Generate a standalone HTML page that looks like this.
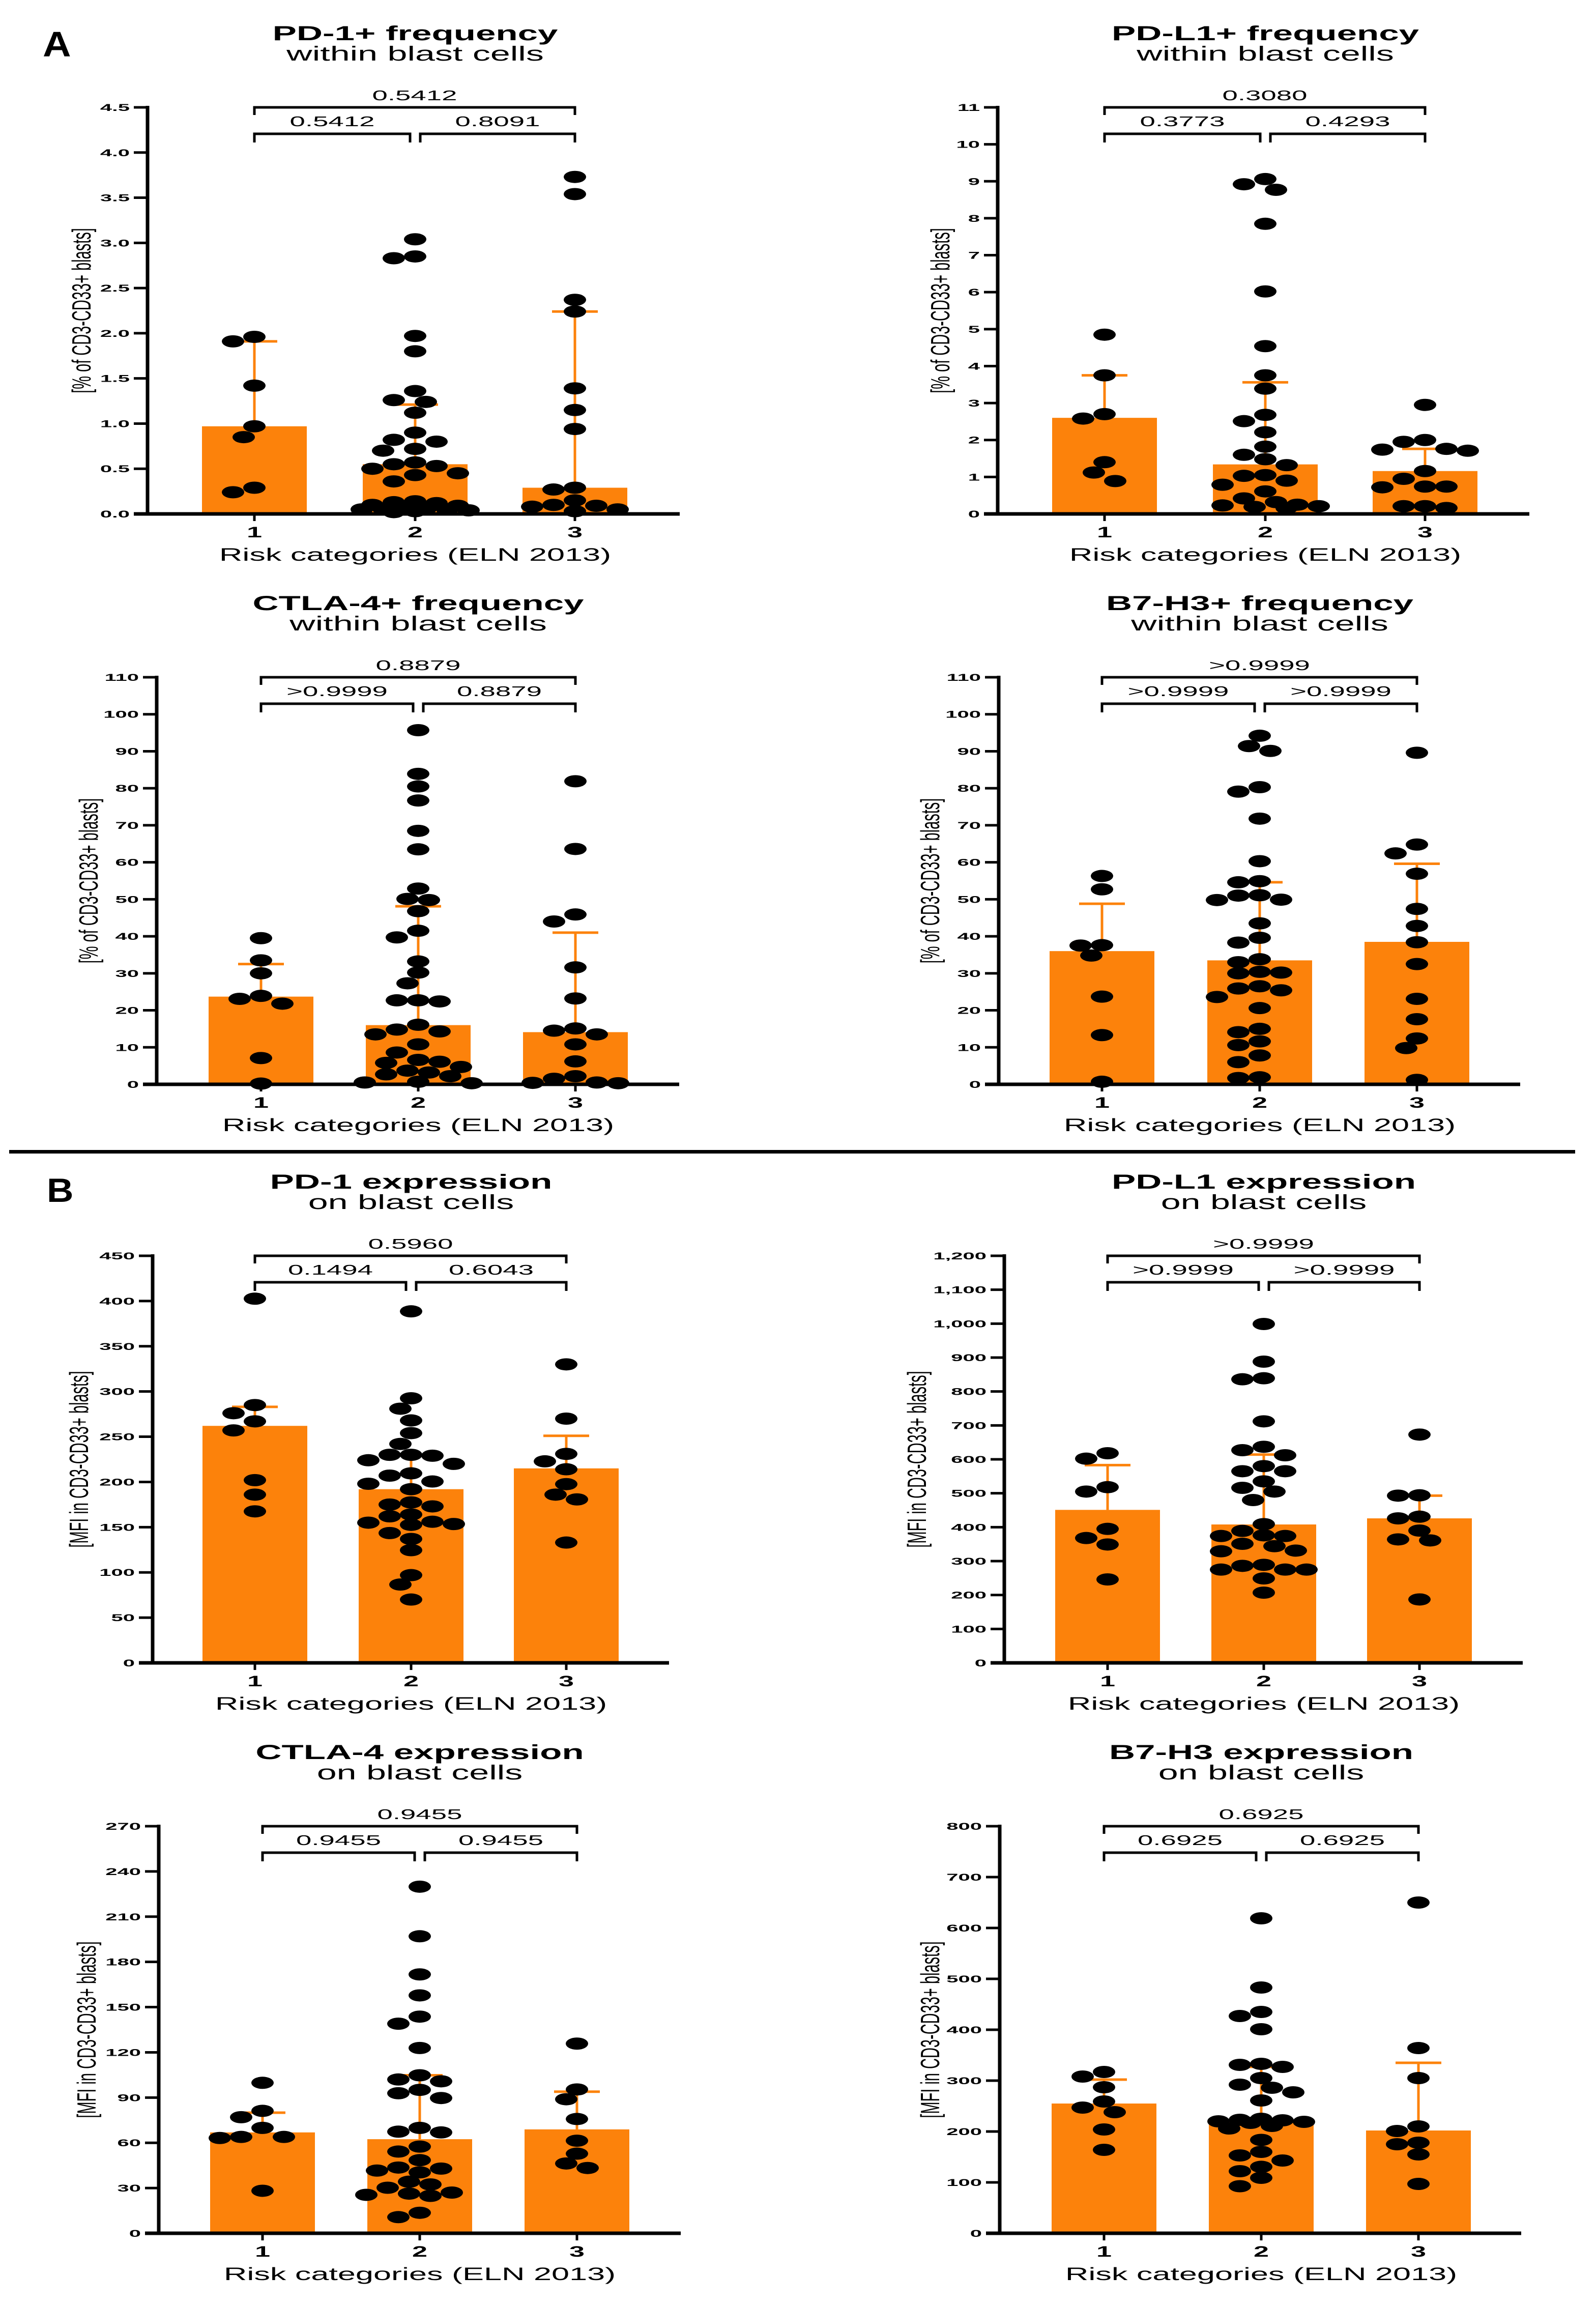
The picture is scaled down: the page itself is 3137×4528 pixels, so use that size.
<!DOCTYPE html>
<html><head><meta charset="utf-8"><title>Immune checkpoint expression by ELN risk</title>
<style>html,body{margin:0;padding:0;background:#fff}svg{display:block}text{font-family:"Liberation Sans",Arial,sans-serif;fill:#000}</style>
</head><body>
<svg id="fig" xmlns="http://www.w3.org/2000/svg" width="3137" height="4528" viewBox="0 0 3137 4528">
<rect x="0" y="0" width="3137" height="4528" fill="#fff"/>
<text transform="translate(84,111) scale(1.1,1)" font-size="70" font-weight="bold">A</text>
<text transform="translate(92,2362) scale(1.1,1)" font-size="66" font-weight="bold">B</text>
<rect x="18" y="2260" width="3078" height="7" fill="#000"/>
</svg>
<script>
// ---- data ----
const categories = ["1","2","3"];
const xTitle = "Risk categories (ELN 2013)";

const pd1fTicks = ["0.0","0.5","1.0","1.5","2.0","2.5","3.0","3.5","4.0","4.5"];
const pd1fBars = [0.97,0.55,0.29];
const pd1fErr = [1.91,1.21,2.24];
const pd1fP = ["0.5412","0.8091","0.5412"];
const pd1fC1 = [1.96,1.91,1.42,0.97,0.85,0.29,0.24];
const pd1fC2 = [3.04,2.85,2.83,1.97,1.80,1.36,1.26,1.24,1.12,0.90,0.82,0.80,0.72,0.70,0.57,0.55,0.53,0.50,0.45,0.43,0.36,0.14,0.13,0.12,0.10,0.09,0.07,0.06,0.06,0.05,0.05,0.04,0.03,0.02];
const pd1fC3 = [3.73,3.54,2.37,2.24,1.39,1.15,0.94,0.29,0.27,0.15,0.10,0.09,0.08,0.05,0.03];

const pdl1fTicks = ["0","1","2","3","4","5","6","7","8","9","10","11"];
const pdl1fBars = [2.60,1.34,1.16];
const pdl1fErr = [3.75,3.56,1.76];
const pdl1fP = ["0.3773","0.4293","0.3080"];
const pdl1fC1 = [4.85,3.75,2.70,2.58,1.40,1.12,0.89];
const pdl1fC2 = [9.06,8.92,8.77,7.85,6.02,4.54,3.75,3.39,2.68,2.51,2.21,1.82,1.60,1.48,1.32,1.05,1.03,0.90,0.79,0.61,0.42,0.32,0.25,0.23,0.21,0.19,0.16];
const pdl1fC3 = [2.95,2.00,1.95,1.76,1.74,1.71,1.16,0.95,0.74,0.74,0.72,0.21,0.21,0.16];

const ctlafTicks = ["0","10","20","30","40","50","60","70","80","90","100","110"];
const ctlafBars = [23.7,16.0,14.1];
const ctlafErr = [32.5,48.1,41.0];
const ctlafP = [">0.9999","0.8879","0.8879"];
const ctlafC1 = [39.5,33.5,30.0,23.9,23.1,21.8,7.1,0.2];
const ctlafC2 = [95.7,83.9,80.5,76.7,68.5,63.5,52.9,50.1,49.8,46.8,41.5,39.7,33.2,30.2,27.3,22.7,22.7,22.4,16.1,14.8,14.3,13.5,10.8,8.6,6.6,6.1,5.8,4.7,3.7,3.2,2.7,2.2,0.7,0.5,0.3];
const ctlafC3 = [81.9,63.6,45.9,44.0,31.6,23.2,15.1,14.5,13.5,10.8,6.2,2.2,1.5,0.5,0.4,0.3];

const b7fTicks = ["0","10","20","30","40","50","60","70","80","90","100","110"];
const b7fBars = [36.0,33.5,38.5];
const b7fErr = [48.8,54.6,59.6];
const b7fP = [">0.9999",">0.9999",">0.9999"];
const b7fC1 = [56.3,52.7,37.6,37.5,34.8,23.7,13.3,0.7];
const b7fC2 = [94.2,91.4,90.1,80.3,79.1,71.8,60.3,54.9,54.6,51.1,51.0,49.9,49.8,43.5,39.6,38.3,33.8,33.0,30.4,30.2,30.0,26.5,25.9,25.4,23.6,20.6,15.0,14.1,11.6,10.6,7.8,6.0,1.9,1.7];
const b7fC3 = [89.6,64.8,62.4,56.9,47.4,42.8,38.4,32.5,23.1,17.6,12.4,9.8,1.2];

const pd1eTicks = ["0","50","100","150","200","250","300","350","400","450"];
const pd1eBars = [262,192,215];
const pd1eErr = [283,230,251];
const pd1eP = ["0.1494","0.6043","0.5960"];
const pd1eC1 = [402.6,285,276,267,257,202,186,167.5];
const pd1eC2 = [388.6,292.5,281,268,254,242,230,229,230,224,220,209.5,207,200.5,198,192,177.4,175,173,164,162,156,155,153.5,152.6,143.5,137,124.6,97,86.6,70];
const pd1eC3 = [330,270,231,222.8,214,197.6,186,180.7,133];

const pdl1eTicks = ["0","100","200","300","400","500","600","700","800","900","1,000","1,100","1,200"];
const pdl1eBars = [451,408,426];
const pdl1eErr = [583,614,493];
const pdl1eP = [">0.9999",">0.9999",">0.9999"];
const pdl1eC1 = [618,602,518,505,395,368,349,246];
const pdl1eC2 = [999,888,839,836,712,637,627,612,580,565,565,535,516,505,480,409,389,376,374,374,351,344,331,329,289,286,275,275,275,249,207];
const pdl1eC3 = [673,494,493,431,426,390,364,361,187];

const ctlaeTicks = ["0","30","60","90","120","150","180","210","240","270"];
const ctlaeBars = [66.9,62.4,68.9];
const ctlaeErr = [80,104.8,93.9];
const ctlaeP = ["0.9455","0.9455","0.9455"];
const ctlaeC1 = [99.8,81.2,77,69.9,63.9,63.9,63.2,28.2];
const ctlaeC2 = [229.9,197,171.7,157.8,143.7,139,122.9,104.8,102,100.8,95.1,92.9,89.7,69.9,67.4,66.9,57.5,54.2,48.5,43.6,42.9,41.6,40.4,34.2,32.4,30.2,27,26.3,25.5,24.8,13.6,10.7];
const ctlaeC3 = [125.8,95.4,88.9,75.8,61.4,52.8,46.3,43.3];

const b7eTicks = ["0","100","200","300","400","500","600","700","800"];
const b7eBars = [255,222,202];
const b7eErr = [302,327,335];
const b7eP = ["0.6925","0.6925","0.6925"];
const b7eC1 = [317,308,287,259,247,238,204,164];
const b7eC2 = [619,483,435,427,401,333,331,327,305,292,286,277,261,225,223,222,220,219,217,211,206,183.5,160,153,143,130.6,122,109,92.5];
const b7eC3 = [650,364,305,210,201,178,175,155,97];

// ---- layout ----
const NS = "http://www.w3.org/2000/svg";
const svg = document.getElementById("fig");
const ORANGE = "#fc820b";

function mk(tag, attrs, parent){
  const e = document.createElementNS(NS, tag);
  for (const k in attrs) e.setAttribute(k, attrs[k]);
  (parent || svg).appendChild(e);
  return e;
}
function txt(parent, x, y, s, size, sx, anchor, bold){
  const t = mk("text", {transform:`translate(${x},${y}) scale(${sx},1)`, "font-size":size, "text-anchor":anchor, "font-weight":bold?"bold":"normal"}, parent);
  t.textContent = s;
  return t;
}

function panel(o){
  const g = mk("g", {});
  
  
  const tickVals = o.ticks.map(s => parseFloat(s.replace(/,/g,"")));
  const ymax = tickVals[tickVals.length-1];
  const y = v => o.bottom - (v / ymax) * (o.bottom - o.top);
  const cx = o.cats;
  const t1 = txt(g, cx[1], o.top-132, o.title1, 40, 1.77, "middle", true);
  
  
  const t2 = txt(g, cx[1], o.top-92, o.title2, 40, 1.75, "middle", false);
  
  
  o.bars.forEach((v,i)=>{
    const b = mk("rect", {x:cx[i]-103, y:y(v), width:206, height:o.bottom-y(v), fill:ORANGE}, g);
    
    
  });
  o.err.forEach((v,i)=>{
    const e = mk("path", {d:`M${cx[i]},${y(o.bars[i])} V${y(v)} M${cx[i]-45},${y(v)} H${cx[i]+45}`, stroke:ORANGE, "stroke-width":5, fill:"none"}, g);
    
    
  });
  const rx = 22, ry = 12;
  o.pts.forEach((arr,i)=>{
    const placed = [];
    const sorted = arr.slice().sort((a,b)=>b-a);
    sorted.forEach(v=>{
      const py = y(v);
      let best = 0, bestScore = -1;
      for (let k=0;k<11;k++){
        const cand = k===0?0:(k%2===1? -Math.ceil(k/2)*21 : Math.ceil(k/2)*21);
        let minD = 99;
        placed.forEach(p=>{const dx=(p[0]-cand)/(2*rx), dy=(p[1]-py)/(2*ry); minD=Math.min(minD, dx*dx+dy*dy);});
        if (minD>=0.8){best=cand;bestScore=99;break;}
        if (minD>bestScore){bestScore=minD;best=cand;}
      }
      placed.push([best,py]);
      const d = mk("ellipse", {cx:cx[i]+best, cy:py, rx:rx, ry:ry, fill:"#000"}, g);
      
      
    });
  });
  const ya = mk("line", {x1:o.axisX, y1:o.top-3, x2:o.axisX, y2:o.bottom+3, stroke:"#000", "stroke-width":7}, g);
  
  
  tickVals.forEach((v,i)=>{
    const tk = mk("line", {x1:o.axisX-27, y1:y(v), x2:o.axisX, y2:y(v), stroke:"#000", "stroke-width":5}, g);
    
    
    const tl = txt(g, o.axisX-35, y(v)+7, o.ticks[i], 19, 2.2, "end", true);
    
    
  });
  const yt = mk("text", {transform:`translate(${o.axisX-o.yoff},${(o.top+o.bottom)/2}) scale(1.78,1) rotate(-90)`, "font-size":29, "text-anchor":"middle"}, g);
  yt.textContent = o.ytitle;
  
  
  const xa = mk("line", {x1:o.axisX-27, y1:o.bottom, x2:o.xEnd, y2:o.bottom, stroke:"#000", "stroke-width":7}, g);
  
  
  cx.forEach((c,i)=>{
    const tk = mk("line", {x1:c, y1:o.bottom, x2:c, y2:o.bottom+14, stroke:"#000", "stroke-width":5}, g);
    
    
    const cl = txt(g, c, o.bottom+46, categories[i], 30, 1.8, "middle", true);
    
    
  });
  const xt = txt(g, cx[1], o.bottom+92, xTitle, 35, 1.8, "middle", false);
  
  
  const t = o.top;
  const br = mk("path", {d:`M${cx[0]},${t+15} V${t} H${cx[2]} V${t+15} M${cx[0]},${t+69} V${t+52} H${cx[1]-10} V${t+69} M${cx[1]+10},${t+69} V${t+52} H${cx[2]} V${t+69}`, stroke:"#000", "stroke-width":5, fill:"none"}, g);
  
  
  const p1 = txt(g, (cx[0]+cx[1]-10)/2, t+37, o.p[0], 28, 1.95, "middle", false);
  
  
  const p2 = txt(g, (cx[1]+10+cx[2])/2, t+37, o.p[1], 28, 1.95, "middle", false);
  
  
  const p3 = txt(g, (cx[0]+cx[2])/2, t-14, o.p[2], 28, 1.95, "middle", false);
  
  
}

const freqY = "[% of CD3-CD33+ blasts]";
const mfiY = "[MFI in CD3-CD33+ blasts]";
panel({name:"pd1-frequency-chart", title1:"PD-1+ frequency", title2:"within blast cells", ytitle:freqY, axisX:290, cats:[500,816,1130], top:211, bottom:1010, xEnd:1336, yoff:112, ticks:pd1fTicks, bars:pd1fBars, err:pd1fErr, p:pd1fP, pts:[pd1fC1,pd1fC2,pd1fC3]});
panel({name:"pdl1-frequency-chart", title1:"PD-L1+ frequency", title2:"within blast cells", ytitle:freqY, axisX:1961, cats:[2171,2487,2801], top:211, bottom:1010, xEnd:3006, yoff:95, ticks:pdl1fTicks, bars:pdl1fBars, err:pdl1fErr, p:pdl1fP, pts:[pdl1fC1,pdl1fC2,pdl1fC3]});
panel({name:"ctla4-frequency-chart", title1:"CTLA-4+ frequency", title2:"within blast cells", ytitle:freqY, axisX:308, cats:[513,822,1131], top:1331, bottom:2131, xEnd:1335, yoff:116, ticks:ctlafTicks, bars:ctlafBars, err:ctlafErr, p:ctlafP, pts:[ctlafC1,ctlafC2,ctlafC3]});
panel({name:"b7h3-frequency-chart", title1:"B7-H3+ frequency", title2:"within blast cells", ytitle:freqY, axisX:1963, cats:[2166,2476,2785], top:1331, bottom:2131, xEnd:2988, yoff:117, ticks:b7fTicks, bars:b7fBars, err:b7fErr, p:b7fP, pts:[b7fC1,b7fC2,b7fC3]});
panel({name:"pd1-expression-chart", title1:"PD-1 expression", title2:"on blast cells", ytitle:mfiY, axisX:300, cats:[501,808,1113], top:2468, bottom:3268, xEnd:1315, yoff:127, ticks:pd1eTicks, bars:pd1eBars, err:pd1eErr, p:pd1eP, pts:[pd1eC1,pd1eC2,pd1eC3]});
panel({name:"pdl1-expression-chart", title1:"PD-L1 expression", title2:"on blast cells", ytitle:mfiY, axisX:1974, cats:[2177,2484,2790], top:2468, bottom:3268, xEnd:2993, yoff:154, ticks:pdl1eTicks, bars:pdl1eBars, err:pdl1eErr, p:pdl1eP, pts:[pdl1eC1,pdl1eC2,pdl1eC3]});
panel({name:"ctla4-expression-chart", title1:"CTLA-4 expression", title2:"on blast cells", ytitle:mfiY, axisX:312, cats:[516,825,1134], top:3589, bottom:4389, xEnd:1338, yoff:124, ticks:ctlaeTicks, bars:ctlaeBars, err:ctlaeErr, p:ctlaeP, pts:[ctlaeC1,ctlaeC2,ctlaeC3]});
panel({name:"b7h3-expression-chart", title1:"B7-H3 expression", title2:"on blast cells", ytitle:mfiY, axisX:1965, cats:[2170,2479,2788], top:3589, bottom:4389, xEnd:2990, yoff:119, ticks:b7eTicks, bars:b7eBars, err:b7eErr, p:b7eP, pts:[b7eC1,b7eC2,b7eC3]});
</script>
</body></html>
